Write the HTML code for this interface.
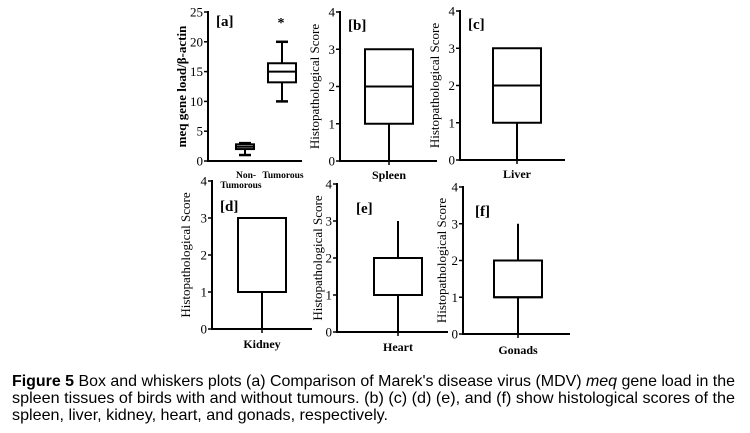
<!DOCTYPE html>
<html><head><meta charset="utf-8"><style>
html,body{margin:0;padding:0;background:#fff;}
svg{display:block;}
</style></head><body>
<svg id="fig" width="750" height="433" viewBox="0 0 750 433" font-family="'Liberation Serif', serif">
<g id="panels"></g>
<g font-family="'Liberation Sans', sans-serif" font-size="16" fill="#000">
<text x="12" y="386" textLength="723" lengthAdjust="spacingAndGlyphs"><tspan font-weight="bold">Figure 5</tspan> Box and whiskers plots (a) Comparison of Marek's disease virus (MDV) <tspan font-style="italic">meq</tspan> gene load in the</text>
<text x="12" y="403" textLength="723" lengthAdjust="spacingAndGlyphs">spleen tissues of birds with and without tumours. (b) (c) (d) (e), and (f) show histological scores of the</text>
<text x="12" y="420" textLength="376" lengthAdjust="spacingAndGlyphs">spleen, liver, kidney, heart, and gonads, respectively.</text>
</g>
</svg>
<script>
// Panel a data
const aCategories = ["Non-Tumorous", "Tumorous"];
const aMin = [1, 10];
const aQ1 = [2, 13.2];
const aMedian = [2.4, 15];
const aQ3 = [2.8, 16.4];
const aMax = [3, 20];
const aTicks = [0, 5, 10, 15, 20, 25];
// Histopathology panels b-f
const hCategories = ["Spleen", "Liver", "Kidney", "Heart", "Gonads"];
const hLabels = ["[b]", "[c]", "[d]", "[e]", "[f]"];
const hMin = [0, 0, 0, 0, 0];
const hQ1 = [1, 1, 1, 1, 1];
const hMedian = [2, 2, 1, 1, 1];
const hQ3 = [3, 3, 3, 2, 2];
const hMax = [1, 1, 1, 3, 3];
const hTicks = [0, 1, 2, 3, 4];

const NS = "http://www.w3.org/2000/svg";
const root = document.getElementById("panels");
function mk(tag, attrs, parent) {
  const e = document.createElementNS(NS, tag);
  for (const k in attrs) e.setAttribute(k, attrs[k]);
  (parent || root).appendChild(e);
  return e;
}
function drawBox(g, cx, w, y, mn, q1, md, q3, mx, caps) {
  const bw = 2;
  mk("line", {x1: cx, x2: cx, y1: y(mx), y2: y(q3), stroke: "#000", "stroke-width": bw}, g);
  mk("line", {x1: cx, x2: cx, y1: y(q1), y2: y(mn), stroke: "#000", "stroke-width": bw}, g);
  if (caps) {
    mk("line", {x1: cx - 6, x2: cx + 6, y1: y(mx), y2: y(mx), stroke: "#000", "stroke-width": 2.5}, g);
    mk("line", {x1: cx - 6, x2: cx + 6, y1: y(mn), y2: y(mn), stroke: "#000", "stroke-width": 2.5}, g);
  }
  mk("rect", {x: cx - w / 2, y: y(q3), width: w, height: y(q1) - y(q3), fill: "#fff", stroke: "#000", "stroke-width": bw}, g);
  mk("line", {x1: cx - w / 2, x2: cx + w / 2, y1: y(md), y2: y(md), stroke: "#000", "stroke-width": bw}, g);
}
function axes(g, ax, top, bot, right, ticks, maxV, title, titleX) {
  const y = v => bot - (v / maxV) * (bot - top);
  mk("line", {x1: ax, x2: ax, y1: top - 1, y2: bot + 1, stroke: "#000", "stroke-width": 2}, g);
  mk("line", {x1: ax, x2: right, y1: bot, y2: bot, stroke: "#000", "stroke-width": 2}, g);
  ticks.forEach(t => {
    mk("line", {x1: ax - 4, x2: ax, y1: y(t), y2: y(t), stroke: "#000", "stroke-width": 1.5}, g);
    const tx = mk("text", {x: ax - 5, y: y(t) + 4.5, "text-anchor": "end", "font-size": 13}, g);
    tx.textContent = t;
  });
  const tt = mk("text", {x: titleX, y: (top + bot) / 2, "text-anchor": "middle", "font-size": title.size, transform: `rotate(-90 ${titleX} ${(top + bot) / 2})`, "font-weight": title.bold ? "bold" : "normal"}, g);
  tt.textContent = title.text;
  return y;
}

// Panel a
{
  const g = mk("g", {});
  
  
  const y = axes(g, 208, 12, 161, 302, aTicks, 25, {text: "meq gene load/β-actin", size: 13, bold: true}, 186);
  const xs = [245, 282], ws = [18, 28];
  aCategories.forEach((c, i) => {
    const bg = mk("g", {}, g);
    
    
    drawBox(bg, xs[i], ws[i], y, aMin[i], aQ1[i], aMedian[i], aQ3[i], aMax[i], true);
  });
  const l = mk("text", {x: 216, y: 26, "font-size": 15, "font-weight": "bold"}, g); l.textContent = "[a]";
  const s = mk("text", {x: 281, y: 27, "font-size": 14, "font-weight": "bold", "text-anchor": "middle"}, g); s.textContent = "*";
  const t1 = mk("text", {x: 246, y: 178, "font-size": 9.5, "text-anchor": "middle", "font-weight": "bold"}, g); t1.textContent = "Non-";
  const t2 = mk("text", {x: 241, y: 188, "font-size": 9.5, "text-anchor": "middle", "font-weight": "bold"}, g); t2.textContent = "Tumorous";
  const t3 = mk("text", {x: 283, y: 178, "font-size": 9.5, "text-anchor": "middle", "font-weight": "bold"}, g); t3.textContent = "Tumorous";
}

// Panels b-f layout
const layout = [
  {ax: 340, top: 12, bot: 161, right: 437, cx: 389, lx: 348, ly: 30, tx: 319, cy: 179},
  {ax: 460, top: 11, bot: 160, right: 565, cx: 517, lx: 468, ly: 29, tx: 439, cy: 178},
  {ax: 212, top: 181, bot: 329, right: 312, cx: 262, lx: 220, ly: 211, tx: 190, cy: 348},
  {ax: 337, top: 184, bot: 332, right: 448, cx: 398, lx: 356, ly: 213, tx: 322, cy: 351},
  {ax: 463, top: 187, bot: 334, right: 570, cx: 518, lx: 475, ly: 216, tx: 446, cy: 354}
];
hCategories.forEach((c, i) => {
  const L = layout[i];
  const g = mk("g", {});
  
  
  const y = axes(g, L.ax, L.top, L.bot, L.right, hTicks, 4, {text: "Histopathological Score", size: 13, bold: false}, L.tx);
  const bg = mk("g", {}, g);
  
  
  drawBox(bg, L.cx, 48, y, hMin[i], hQ1[i], hMedian[i], hQ3[i], hMax[i], false);
  mk("line", {x1: L.cx, x2: L.cx, y1: L.bot, y2: L.bot + 4, stroke: "#000", "stroke-width": 1.5}, g);
  const lab = mk("text", {x: L.lx, y: L.ly, "font-size": 15, "font-weight": "bold"}, g); lab.textContent = hLabels[i];
  const cl = mk("text", {x: L.cx, y: L.cy, "font-size": 12, "text-anchor": "middle", "font-weight": "bold"}, g); cl.textContent = c;
});
</script>
</body></html>
